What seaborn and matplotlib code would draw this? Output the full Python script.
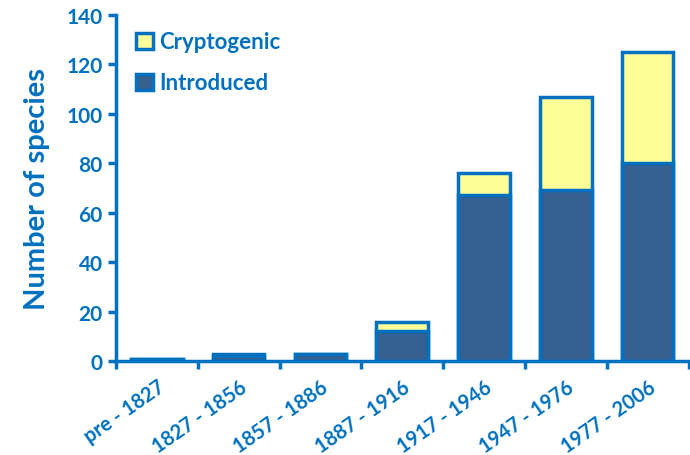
import matplotlib
matplotlib.use("Agg")
import matplotlib.pyplot as plt
import numpy as np
import pandas as pd
import seaborn as sns

# Data
periods = ["pre - 1827", "1827 - 1856", "1857 - 1886", "1887 - 1916",
           "1917 - 1946", "1947 - 1976", "1977 - 2006"]
introduced = [1, 2, 3, 12, 67, 69, 80]
cryptogenic = [0, 1, 0, 4, 9, 38, 45]

blue = "#0070C0"
dark = "#355F8F"
yellow = "#FFFF99"

df = pd.DataFrame({"period": periods,
                   "Introduced": introduced,
                   "Cryptogenic": cryptogenic})
df["total"] = df["Introduced"] + df["Cryptogenic"]

sns.set_style("white")
plt.rcParams["font.family"] = ["Lato", "DejaVu Sans"]
plt.rcParams["font.weight"] = "bold"

fig = plt.figure(figsize=(6.9, 4.56), dpi=100)
ax = fig.add_axes([0.168, 0.206, 0.830, 0.759])

# stacked bars: draw totals first, introduced on top of it
sns.barplot(data=df, x="period", y="total", color=yellow, width=0.63,
            edgecolor=blue, linewidth=2.5, saturation=1, ax=ax,
            label="Cryptogenic")
sns.barplot(data=df, x="period", y="Introduced", color=dark, width=0.63,
            edgecolor=blue, linewidth=2.5, saturation=1, ax=ax,
            label="Introduced")

ax.set_xlim(-0.5, 6.5)
ax.set_ylim(0, 140)
ax.set_yticks(np.arange(0, 141, 20))
ax.set_xlabel("")
ax.set_ylabel("Number of species", fontsize=21, fontweight="bold",
              color=blue, labelpad=12)

sns.despine(ax=ax)
for s in ["left", "bottom"]:
    ax.spines[s].set_color(blue)
    ax.spines[s].set_linewidth(2.5)

ax.tick_params(axis="y", colors=blue, labelsize=15, length=6, width=2.5,
               direction="out", left=True)
ax.set_xticks(np.arange(-0.5, 7, 1), minor=True)
ax.tick_params(axis="x", which="major", length=0, labelsize=14.5,
               labelcolor=blue, pad=11)
ax.tick_params(axis="x", which="minor", length=6, width=2.5, color=blue,
               direction="out", bottom=True)
plt.setp(ax.get_xticklabels(), rotation=35, ha="right", rotation_mode="anchor")
for lab in ax.get_yticklabels() + ax.get_xticklabels():
    lab.set_fontweight("bold")

leg = ax.legend(loc="upper left", frameon=False, fontsize=16,
                handlelength=0.75, handleheight=0.75, handletextpad=0.3,
                labelspacing=0.9, bbox_to_anchor=(0.0, 1.01))
for t in leg.get_texts():
    t.set_color(blue)
    t.set_fontweight("bold")

fig.savefig("out.png", dpi=100)
